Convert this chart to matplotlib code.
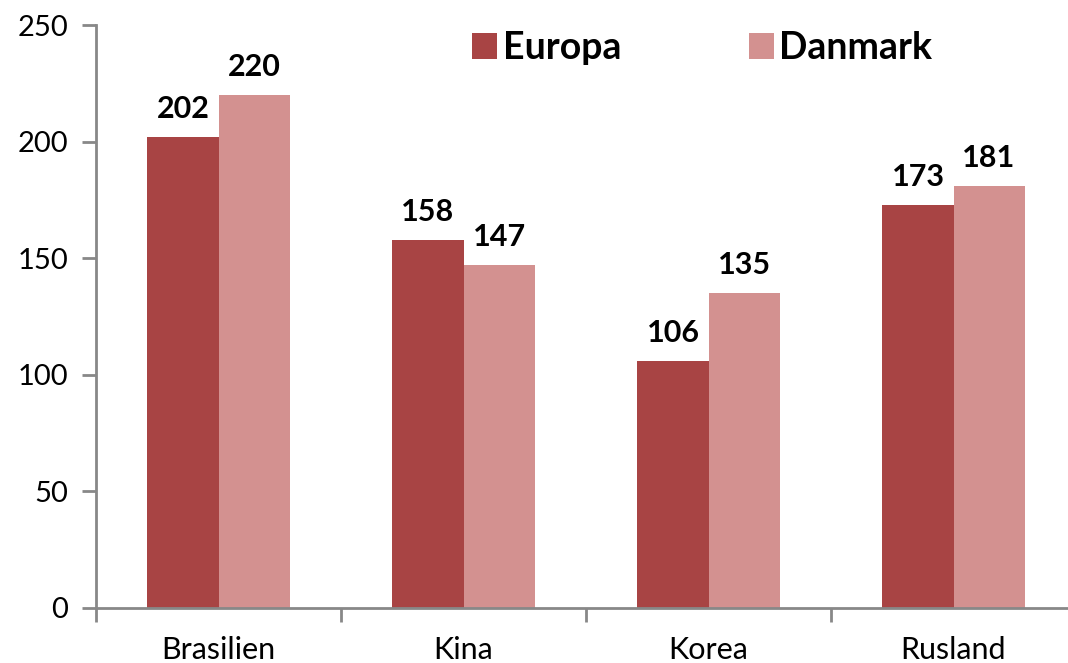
import matplotlib.pyplot as plt
import numpy as np
from matplotlib.patches import Patch

plt.rcParams["font.family"] = ["Lato", "DejaVu Sans"]

categories = ["Brasilien", "Kina", "Korea", "Rusland"]
europa = [202, 158, 106, 173]
danmark = [220, 147, 135, 181]
series_names = ["Europa", "Danmark"]
colors = ["#A84444", "#D39190"]
yticks = [0, 50, 100, 150, 200, 250]

fig = plt.figure(figsize=(10.68, 6.63), dpi=100)
ax = fig.add_axes([96 / 1068, 55 / 663, 980 / 1068, 583 / 663])

x = np.arange(len(categories))
width = 0.29
bars_e = ax.bar(x - width / 2, europa, width, color=colors[0])
bars_d = ax.bar(x + width / 2, danmark, width, color=colors[1])

for bars in (bars_e, bars_d):
    for b in bars:
        ax.annotate(f"{b.get_height():.0f}",
                    (b.get_x() + b.get_width() / 2, b.get_height()),
                    xytext=(0, 10), textcoords="offset points",
                    ha="center", va="bottom", fontsize=22, fontweight="bold")

ax.set_xlim(-0.5, len(categories) - 0.5)
ax.set_ylim(0, 250)
ax.set_yticks(yticks)
ax.set_xticks(x)
ax.set_xticklabels(categories)
ax.set_xticks(np.arange(len(categories) + 1) - 0.5, minor=True)
ax.tick_params(axis="x", which="major", length=0, labelsize=22, pad=20)
ax.tick_params(axis="x", which="minor", length=10, width=2, color="#888888")
ax.tick_params(axis="y", length=10, width=2, color="#888888", labelsize=21, pad=10)

for s in ("top", "right"):
    ax.spines[s].set_visible(False)
for s in ("left", "bottom"):
    ax.spines[s].set_color("#888888")
    ax.spines[s].set_linewidth(2)

handles = [Patch(facecolor=c, label=n) for c, n in zip(colors, series_names)]
fig.legend(handles=handles, loc="center", bbox_to_anchor=(702 / 1068, 1 - 48 / 663),
           ncol=2, frameon=False, handlelength=0.67, handleheight=0.67,
           handletextpad=0.15, columnspacing=3.4,
           prop={"size": 27, "weight": "bold"})

fig.savefig("out.png", dpi=100)
